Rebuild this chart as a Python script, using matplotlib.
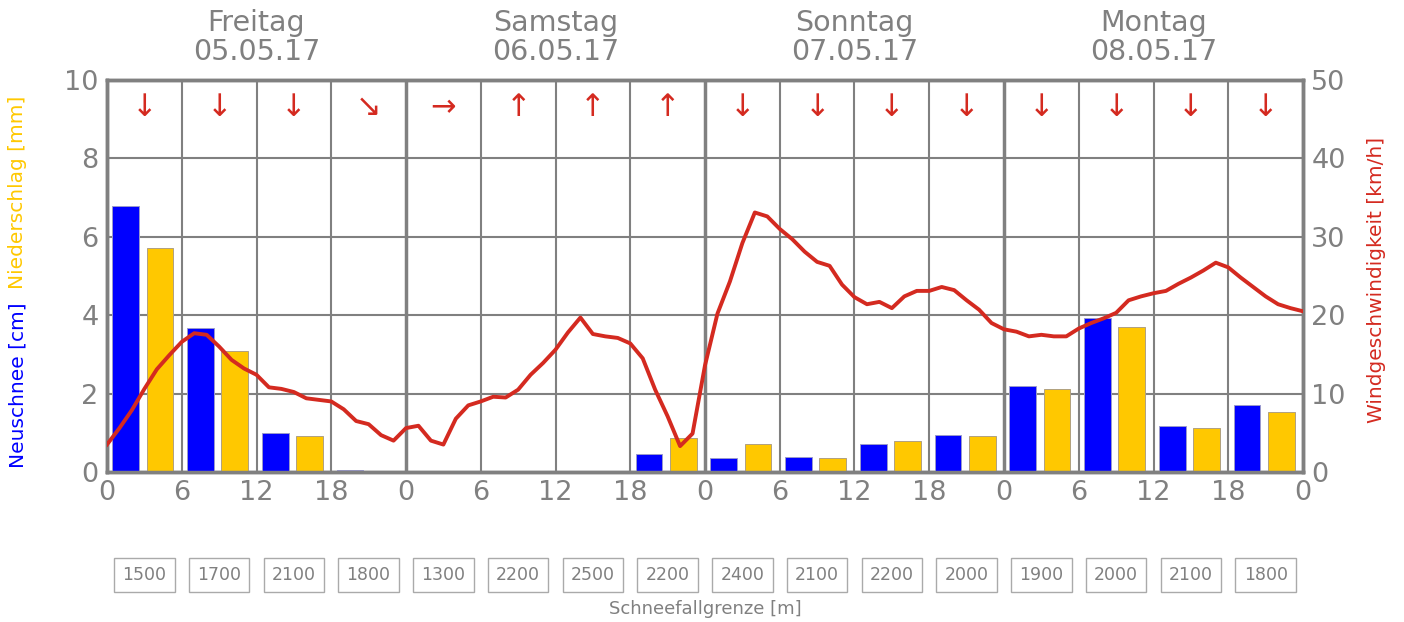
import numpy as np
import matplotlib
matplotlib.use("Agg")
import matplotlib.pyplot as plt
from matplotlib.transforms import blended_transform_factory

# data: 6-hour blocks, 4 days
days = ["Freitag", "Samstag", "Sonntag", "Montag"]
dates = ["05.05.17", "06.05.17", "07.05.17", "08.05.17"]
neuschnee = [6.79, 3.68, 0.99, 0.05, 0, 0, 0, 0.46,
             0.35, 0.37, 0.71, 0.94, 2.19, 3.93, 1.18, 1.71]
niederschlag = [5.71, 3.09, 0.92, 0.03, 0, 0, 0, 0.88,
                0.71, 0.35, 0.80, 0.91, 2.12, 3.69, 1.11, 1.52]
richtung = ["↓", "↓", "↓", "↘", "→", "↑", "↑", "↑",
            "↓", "↓", "↓", "↓", "↓", "↓", "↓", "↓"]
schneefallgrenze = [1500, 1700, 2100, 1800, 1300, 2200, 2500, 2200,
                    2400, 2100, 2200, 2000, 1900, 2000, 2100, 1800]
# hourly wind speed, hour 0..96
wind = [3.5, 5.6, 7.9, 10.6, 13.1, 14.9, 16.6, 17.7, 17.5, 16.0, 14.3, 13.2,
        12.4, 10.8, 10.6, 10.2, 9.4, 9.2, 9.0, 8.0, 6.5, 6.1, 4.7, 4.0,
        5.6, 5.9, 4.0, 3.5, 6.8, 8.5, 9.0, 9.6, 9.5, 10.5, 12.4, 13.9,
        15.6, 17.8, 19.7, 17.6, 17.3, 17.1, 16.4, 14.5, 10.5, 7.1, 3.3, 4.9,
        13.6, 20.2, 24.3, 29.2, 33.1, 32.6, 31.0, 29.7, 28.1, 26.8, 26.3, 23.9,
        22.3, 21.4, 21.7, 20.9, 22.4, 23.1, 23.1, 23.6, 23.2, 21.9, 20.7, 19.0,
        18.2, 17.9, 17.3, 17.5, 17.3, 17.3, 18.3, 19.0, 19.6, 20.3, 21.9, 22.4,
        22.8, 23.1, 24.0, 24.8, 25.7, 26.7, 26.1, 24.8, 23.6, 22.4, 21.4, 20.9,
        20.5]

grey = "#808080"
blue = "#0000ff"
yellow = "#ffc800"
red = "#d42a20"

fig = plt.figure(figsize=(14.04, 6.22), dpi=100)
ax = fig.add_axes([107/1404, 1-472/622, 1196/1404, 392/622])
ax2 = ax.twinx()

block_start = np.arange(16) * 6
ax.bar(block_start + 1.5, neuschnee, width=2.14, color=blue,
       edgecolor="#9a9acc", linewidth=0.7, zorder=3)
ax.bar(block_start + 4.25, niederschlag, width=2.14, color=yellow,
       edgecolor="#b0a080", linewidth=0.7, zorder=3)

# grid
for h in range(6, 96, 6):
    lw = 2.5 if h % 24 == 0 else 1.5
    ax.axvline(h, color=grey, lw=lw, zorder=1)
for v in [2, 4, 6, 8]:
    ax.axhline(v, color=grey, lw=1.5, zorder=1)

ax.set_xlim(0, 96)
ax.set_ylim(0, 10)
ax2.set_ylim(0, 50)
ax.set_xticks(range(0, 97, 6))
ax.set_xticklabels([str(h % 24) for h in range(0, 97, 6)])
ax.set_yticks(range(0, 11, 2))
ax2.set_yticks(range(0, 51, 10))
for a in (ax, ax2):
    a.tick_params(length=0, labelsize=19.5, colors=grey, pad=6)
    for s in a.spines.values():
        s.set_color(grey)
        s.set_linewidth(2.5)

ax2.plot(np.arange(len(wind)), wind, color=red, lw=2.8, zorder=4)

# wind direction arrows
for i, r in enumerate(richtung):
    ax.text(block_start[i] + 3, 9.29, r, color=red, fontsize=22,
            ha="center", va="center", zorder=5)

# day headers
tr = blended_transform_factory(ax.transData, ax.transAxes)
for i, (d, dt) in enumerate(zip(days, dates)):
    ax.text(24 * i + 12, 1.035, d + "\n" + dt, transform=tr, ha="center",
            va="bottom", fontsize=20.5, color=grey, linespacing=1.05)

# snowfall limit boxes
for i, s in enumerate(schneefallgrenze):
    ax.text(block_start[i] + 3, 1 - 575/622, str(s),
            transform=blended_transform_factory(ax.transData, fig.transFigure),
            ha="center", va="center", fontsize=12.5, color=grey,
            bbox=dict(boxstyle="square,pad=0.48", fc="white", ec="#aaaaaa", lw=1))
fig.text(705/1404, 1 - 609/622, "Schneefallgrenze [m]", ha="center", va="center",
         fontsize=13, color=grey)

# axis labels
fig.text(18/1404, 1 - 468/622, "Neuschnee [cm]", rotation=90, ha="center",
         va="bottom", fontsize=14.5, color=blue)
fig.text(18/1404, 1 - 289/622, "Niederschlag [mm]", rotation=90, ha="center",
         va="bottom", fontsize=14.5, color=yellow)
fig.text(1377/1404, 1 - 280/622, "Windgeschwindigkeit [km/h]", rotation=90,
         ha="center", va="center", fontsize=14.5, color=red)

fig.savefig("out.png", dpi=100)
